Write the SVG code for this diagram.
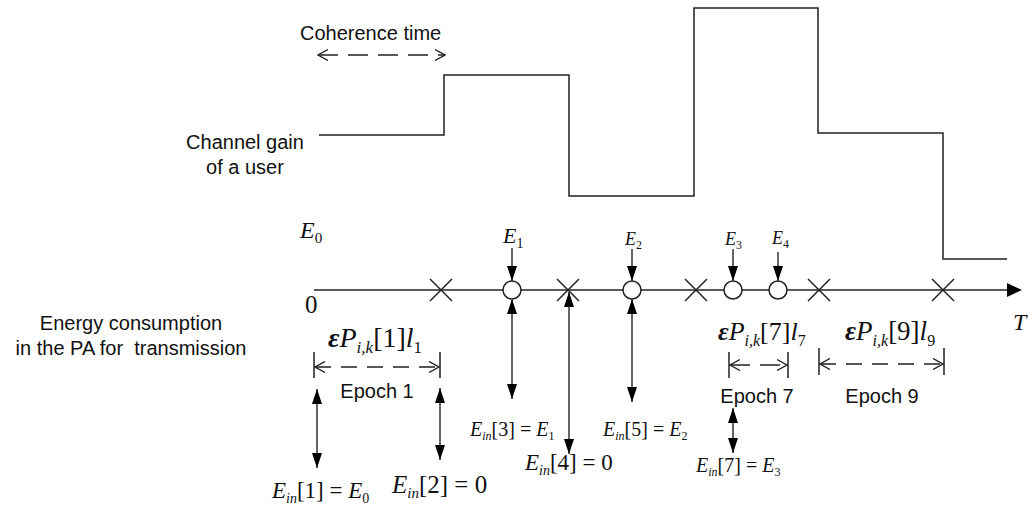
<svg xmlns="http://www.w3.org/2000/svg" width="1028" height="508" viewBox="0 0 1028 508">
<style>
.ln{stroke:#222;stroke-width:1.5;fill:none}
.ar{stroke:#333;stroke-width:1.5;fill:none}
.dash{stroke:#222;stroke-width:1.3;fill:none}
.sans{font-family:"Liberation Sans",Arial,sans-serif;font-size:20px;fill:#111}
.m{font-family:"Liberation Serif","Times New Roman",serif;fill:#111}
.i{font-style:italic}
.circ{fill:#fff;stroke:#222;stroke-width:1.5}
</style>
<defs>
<marker id="fa" viewBox="0 0 15 10" markerWidth="15" markerHeight="10" refX="15" refY="5" orient="auto-start-reverse" markerUnits="userSpaceOnUse">
<path d="M0,0 L15,5 L0,10 z" fill="#000"/>
</marker>
<marker id="oa" viewBox="0 0 11 12" markerWidth="11" markerHeight="12" refX="10" refY="6" orient="auto-start-reverse" markerUnits="userSpaceOnUse">
<path d="M0,0.5 L10,6 L0,11.5" fill="none" stroke="#222" stroke-width="1.3"/>
</marker>
</defs>

<g id="coherence-time">
<text class="sans" x="300" y="40">Coherence time</text>
<path class="dash" d="M318,55 H445" stroke-dasharray="20 10" marker-start="url(#oa)" marker-end="url(#oa)"/>
</g>

<g id="channel-gain">
<text class="sans" text-anchor="middle" x="245" y="149">Channel gain</text>
<text class="sans" text-anchor="middle" x="245" y="174">of a user</text>
<path class="ln" d="M319,135 H444 V75 H569 V196 H694 V8 H818 V133 H943 V259 H1007"/>
</g>

<g id="energy-label">
<text class="sans" text-anchor="middle" x="131" y="330">Energy consumption</text>
<text class="sans" text-anchor="middle" x="131" y="355" xml:space="preserve">in the PA for  transmission</text>
</g>

<g id="time-axis">
<path class="ln" d="M314,290 H1008"/>
<path d="M1007,283 L1022,290 L1007,297 z" fill="#000"/>
<text class="m" font-size="25" x="305" y="313">0</text>
<text class="m i" font-size="24" x="1013" y="330">T</text>
<text class="m" font-size="24" x="300" y="238"><tspan class="i">E</tspan><tspan font-size="15" dy="5">0</tspan></text>
</g>

<g id="epoch-boundaries">
<path class="ln" d="M430,279 L452,301 M452,279 L430,301"/>
<path class="ln" d="M557,279 L579,301 M579,279 L557,301"/>
<path class="ln" d="M685,279 L707,301 M707,279 L685,301"/>
<path class="ln" d="M808,279 L830,301 M830,279 L808,301"/>
<path class="ln" d="M932,279 L954,301 M954,279 L932,301"/>
</g>

<g id="arrival-E1">
<circle class="circ" cx="512" cy="290" r="9"/>
<path class="ar" d="M512,248 V281" marker-end="url(#fa)"/>
<text class="m" font-size="22" x="503" y="243"><tspan class="i">E</tspan><tspan font-size="14" dy="5">1</tspan></text>
</g>
<g id="arrival-E2">
<circle class="circ" cx="632" cy="290" r="9"/>
<path class="ar" d="M632,249 V281" marker-end="url(#fa)"/>
<text class="m" font-size="18" x="625" y="245"><tspan class="i">E</tspan><tspan font-size="12" dy="4">2</tspan></text>
</g>
<g id="arrival-E3">
<circle class="circ" cx="733" cy="290" r="9"/>
<path class="ar" d="M733,249 V281" marker-end="url(#fa)"/>
<text class="m" font-size="18" x="725" y="245"><tspan class="i">E</tspan><tspan font-size="12" dy="4">3</tspan></text>
</g>
<g id="arrival-E4">
<circle class="circ" cx="778" cy="290" r="9"/>
<path class="ar" d="M778,252 V281" marker-end="url(#fa)"/>
<text class="m" font-size="18" x="772" y="244"><tspan class="i">E</tspan><tspan font-size="12" dy="4">4</tspan></text>
</g>

<g id="epoch1">
<text class="m" font-size="28" x="328" y="347"><tspan class="i" font-weight="bold">ε</tspan><tspan class="i">P</tspan><tspan class="i" font-size="17" dy="6">i,k</tspan><tspan dy="-6">[1]</tspan><tspan class="i">l</tspan><tspan font-size="17" dy="6">1</tspan></text>
<path class="ln" d="M314,352 V378 M440,352 V378" stroke-width="1.2"/>
<path class="dash" d="M315,367 H439" stroke-dasharray="16 10" marker-start="url(#oa)" marker-end="url(#oa)"/>
<text class="sans" text-anchor="middle" x="377" y="398">Epoch 1</text>
</g>

<g id="epoch7">
<text class="m" font-size="26" x="718" y="340"><tspan class="i" font-weight="bold">ε</tspan><tspan class="i">P</tspan><tspan class="i" font-size="16" dy="6">i,k</tspan><tspan dy="-6">[7]</tspan><tspan class="i">l</tspan><tspan font-size="16" dy="6">7</tspan></text>
<path class="ln" d="M729,352 V378 M788,352 V378" stroke-width="1.2"/>
<path class="dash" d="M730,365 H787" stroke-dasharray="20 10" marker-start="url(#oa)" marker-end="url(#oa)"/>
<text class="sans" text-anchor="middle" x="757" y="403">Epoch 7</text>
</g>

<g id="epoch9">
<text class="m" font-size="27" x="845" y="340"><tspan class="i" font-weight="bold">ε</tspan><tspan class="i">P</tspan><tspan class="i" font-size="16" dy="6">i,k</tspan><tspan dy="-6">[9]</tspan><tspan class="i">l</tspan><tspan font-size="16" dy="6">9</tspan></text>
<path class="ln" d="M819,348 V375 M944,348 V375" stroke-width="1.2"/>
<path class="dash" d="M820,364 H943" stroke-dasharray="16 10" marker-start="url(#oa)" marker-end="url(#oa)"/>
<text class="sans" text-anchor="middle" x="882" y="403">Epoch 9</text>
</g>

<g id="connectors">
<path class="ar" d="M317,389 V468" marker-start="url(#fa)" marker-end="url(#fa)"/>
<path class="ar" d="M440,388 V460" marker-start="url(#fa)" marker-end="url(#fa)"/>
<path class="ar" d="M512,299 V399" marker-start="url(#fa)" marker-end="url(#fa)"/>
<path class="ar" d="M569,292 V454" marker-start="url(#fa)" marker-end="url(#fa)"/>
<path class="ar" d="M632,299 V402" marker-start="url(#fa)" marker-end="url(#fa)"/>
<path class="ar" d="M733,408 V453" marker-start="url(#fa)" marker-end="url(#fa)"/>
</g>

<g id="energy-in-labels">
<text class="m" font-size="23" x="272" y="498"><tspan class="i">E</tspan><tspan class="i" font-size="14" dy="5">in</tspan><tspan dy="-5">[1] = </tspan><tspan class="i">E</tspan><tspan font-size="14" dy="5">0</tspan></text>
<text class="m" font-size="25" x="392" y="493"><tspan class="i">E</tspan><tspan class="i" font-size="15" dy="5">in</tspan><tspan dy="-5">[2] = 0</tspan></text>
<text class="m" font-size="20" x="470" y="436"><tspan class="i">E</tspan><tspan class="i" font-size="12" dy="4">in</tspan><tspan dy="-4">[3] = </tspan><tspan class="i">E</tspan><tspan font-size="12" dy="4">1</tspan></text>
<text class="m" font-size="23" x="525" y="470"><tspan class="i">E</tspan><tspan class="i" font-size="14" dy="5">in</tspan><tspan dy="-5">[4] = 0</tspan></text>
<text class="m" font-size="20" x="603" y="436"><tspan class="i">E</tspan><tspan class="i" font-size="12" dy="4">in</tspan><tspan dy="-4">[5] = </tspan><tspan class="i">E</tspan><tspan font-size="12" dy="4">2</tspan></text>
<text class="m" font-size="20" x="696" y="472"><tspan class="i">E</tspan><tspan class="i" font-size="12" dy="4">in</tspan><tspan dy="-4">[7] = </tspan><tspan class="i">E</tspan><tspan font-size="12" dy="4">3</tspan></text>
</g>
</svg>
